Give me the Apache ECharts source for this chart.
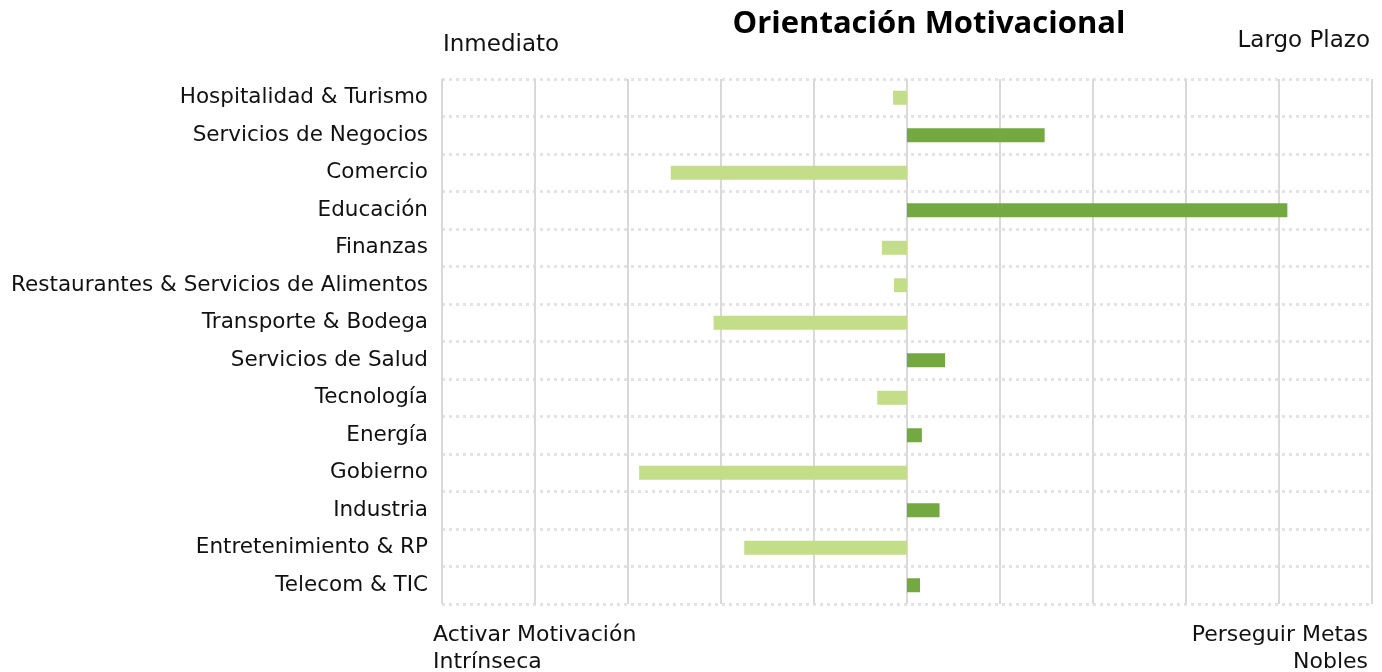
<!DOCTYPE html>
<html><head><meta charset="utf-8">
<script src="https://cdn.jsdelivr.net/npm/echarts@6/dist/echarts.min.js"></script>
<style>html,body{margin:0;padding:0;background:#fff}#c{width:1382px;height:672px}</style>
</head><body><div id="c"></div>
<script>
const categories = ["Hospitalidad & Turismo","Servicios de Negocios","Comercio","Educación","Finanzas","Restaurantes & Servicios de Alimentos","Transporte & Bodega","Servicios de Salud","Tecnología","Energía","Gobierno","Industria","Entretenimiento & RP","Telecom & TIC"];
const values = [-0.15, 1.48, -2.54, 4.09, -0.27, -0.14, -2.08, 0.41, -0.32, 0.16, -2.88, 0.35, -1.75, 0.14];
const axisMin = -5, axisMax = 5, axisStep = 1;
const title = "Orientación Motivacional";
const topLeft = "Inmediato", topRight = "Largo Plazo";
const bottomLeft = ["Activar Motivación", "Intrínseca"];
const bottomRight = ["Perseguir Metas", "Nobles"];

const FONT = "DejaVu Sans";
const chart = echarts.init(document.getElementById('c'));
const cornerText = [];
bottomLeft.forEach((t, i) => cornerText.push({type:'text',left:433,top:624 + i*27,style:{text:t,fontSize:22,fontFamily:FONT,fill:'#111'}}));
bottomRight.forEach((t, i) => cornerText.push({type:'text',right:14,top:624 + i*27,style:{text:t,fontSize:22,fontFamily:FONT,fill:'#111'}}));
chart.setOption({
  animation:false,
  textStyle:{fontFamily:FONT},
  title:{text:title,left:924,top:4,textAlign:'center',textStyle:{fontFamily:'Open Sans',fontSize:31,fontWeight:'bold',color:'#000'}},
  grid:{left:442,right:10,top:79,bottom:68,containLabel:false},
  xAxis:{type:'value',min:axisMin,max:axisMax,interval:axisStep,
    axisLabel:{show:false},axisLine:{show:false},axisTick:{show:false},
    splitLine:{show:true,lineStyle:{color:'#d9d9d9',width:2}}},
  yAxis:{type:'category',data:categories,inverse:true,
    axisLine:{show:false},axisTick:{show:false},
    axisLabel:{fontSize:21.5,color:'#111',margin:14,fontFamily:FONT},
    splitLine:{show:true,lineStyle:{color:'#e3e3e3',width:3,type:[3,4]}}},
  series:[{type:'bar',data:values,barWidth:14,
    itemStyle:{color:p=>p.value>=0?'#74a840':'#c4dd88'}}],
  graphic:[
    {type:'text',left:443,top:34,style:{text:topLeft,fontSize:23,fontFamily:FONT,fill:'#111'}},
    {type:'text',right:12,top:30,style:{text:topRight,fontSize:23,fontFamily:FONT,fill:'#111'}}
  ].concat(cornerText)
});
</script></body></html>
